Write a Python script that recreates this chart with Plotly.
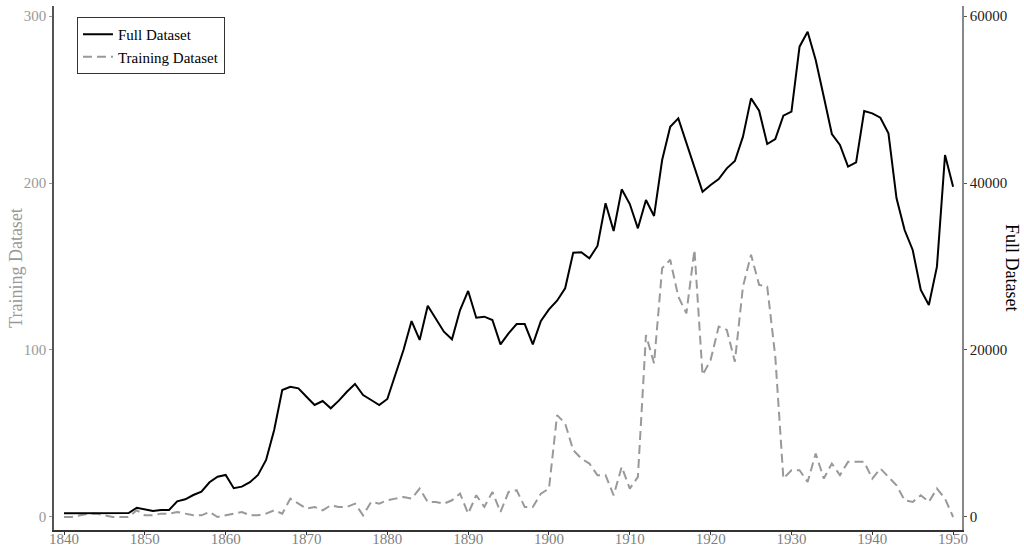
import plotly.graph_objects as go

years = list(range(1840, 1951))

full_dataset = [
    440, 450, 460, 450, 440, 430, 460, 450, 470, 1110,  # 1840-1849
    920, 720, 840, 840, 1880, 2120, 2630, 3030, 4160, 4830,  # 1850-1859
    5030, 3440, 3630, 4160, 5030, 6830, 10420, 15210, 15600, 15410,  # 1860-1869
    14400, 13410, 13890, 13020, 13930, 15000, 15930, 14610, 14010, 13410,  # 1870-1879
    14130, 17000, 20000, 23470, 21200, 25300, 23800, 22190, 21280, 24790,  # 1880-1889
    27070, 23870, 23990, 23590, 20680, 22000, 23110, 23110, 20680, 23470,  # 1890-1899
    24870, 25900, 27390, 31660, 31700, 30980, 32460, 37570, 34250, 39240,  # 1900-1909
    37480, 34570, 37960, 36050, 42750, 46740, 47740, 44760, 41960, 38960,  # 1910-1919
    39760, 40480, 41760, 42630, 45550, 50140, 48660, 44670, 45270, 48060,  # 1920-1929
    48540, 56330, 58120, 54730, 50340, 45870, 44550, 41960, 42480, 48620,  # 1930-1939
    48340, 47820, 45950, 38160, 34370, 31980, 27190, 25390, 29980, 43350,  # 1940-1949
    39560,  # 1950
]

training_dataset = [
    0, 0, 1, 2, 2, 1, 0, 0, 0, 4,  # 1840-1849
    1, 1, 2, 2, 3, 2, 1, 1, 3, 0,  # 1850-1859
    1, 2, 3, 1, 1, 2, 4, 2, 11, 8,  # 1860-1869
    5, 6, 4, 7, 6, 6, 8, 1, 9, 8,  # 1870-1879
    10, 11, 12, 11, 17, 9, 9, 8, 10, 14,  # 1880-1889
    2, 13, 6, 15, 3, 15, 16, 6, 6, 14,  # 1890-1899
    17, 61, 56, 40, 35, 32, 25, 25, 13, 30,  # 1900-1909
    17, 24, 109, 92, 149, 154, 132, 122, 160, 85,  # 1910-1919
    94, 114, 112, 93, 138, 157, 139, 138, 96, 23,  # 1920-1929
    28, 28, 21, 38, 23, 32, 25, 33, 33, 33,  # 1930-1939
    23, 29, 24, 19, 10, 9, 13, 9, 17, 11,  # 1940-1949
    0,  # 1950
]

x_ticks = [1840, 1850, 1860, 1870, 1880, 1890, 1900, 1910, 1920, 1930, 1940, 1950]
left_ticks = [0, 100, 200, 300]
right_ticks = [0, 20000, 40000, 60000]

FONT = "Liberation Serif"

fig = go.Figure()
fig.add_trace(go.Scatter(
    x=years, y=full_dataset, name="Full Dataset", mode="lines",
    line=dict(color="#000000", width=2), yaxis="y2",
))
fig.add_trace(go.Scatter(
    x=years, y=training_dataset, name="Training Dataset", mode="lines",
    line=dict(color="#999999", width=2, dash="9px,5px"), yaxis="y",
))

fig.update_layout(
    width=1024, height=549,
    margin=dict(l=54, r=62, t=6, b=19, autoexpand=False),
    paper_bgcolor="white", plot_bgcolor="white",
    font=dict(family=FONT, size=14, color="#000000"),
    xaxis=dict(
        range=[1838.76, 1951.1], tickvals=x_ticks, ticktext=[str(t) for t in x_ticks],
        showgrid=False, zeroline=False, showline=True, linecolor="#333333", linewidth=1.5,
        ticks="outside", ticklen=3, tickcolor="#333333", tickwidth=1,
        ticklabelstandoff=-9,
        tickfont=dict(family=FONT, size=15, color="#7f7f7f"), automargin=False,
    ),
    yaxis=dict(
        range=[-7.8, 306], tickvals=left_ticks, ticktext=[str(t) for t in left_ticks],
        showgrid=False, zeroline=False, showline=True, linecolor="#555555", linewidth=1.5,
        ticks="outside", ticklen=3, tickcolor="#999999", tickwidth=1,
        tickfont=dict(family=FONT, size=15, color="#999999"), automargin=False,
    ),
    yaxis2=dict(
        range=[-1560, 61200], tickvals=right_ticks, ticktext=[str(t) for t in right_ticks],
        overlaying="y", side="right",
        showgrid=False, zeroline=False, showline=True, linecolor="#888888", linewidth=1.5,
        ticks="outside", ticklen=3, tickcolor="#555555", tickwidth=1,
        tickfont=dict(family=FONT, size=15, color="#222222"), automargin=False,
    ),
    legend=dict(
        x=0.0253, y=0.979, xanchor="left", yanchor="top",
        bordercolor="#333333", borderwidth=1, bgcolor="white",
        font=dict(family=FONT, size=15, color="#000000"),
        tracegroupgap=2,
    ),
    showlegend=True,
    annotations=[
        dict(text="Training Dataset", xref="paper", yref="paper", x=-0.0419, y=0.5,
             textangle=-90, showarrow=False, xanchor="center", yanchor="middle",
             font=dict(family=FONT, size=18, color="#999999")),
        dict(text="Full Dataset", xref="paper", yref="paper", x=1.055, y=0.5,
             textangle=90, showarrow=False, xanchor="center", yanchor="middle",
             font=dict(family=FONT, size=18, color="#000000")),
    ],
)

fig.write_html("out.html")
